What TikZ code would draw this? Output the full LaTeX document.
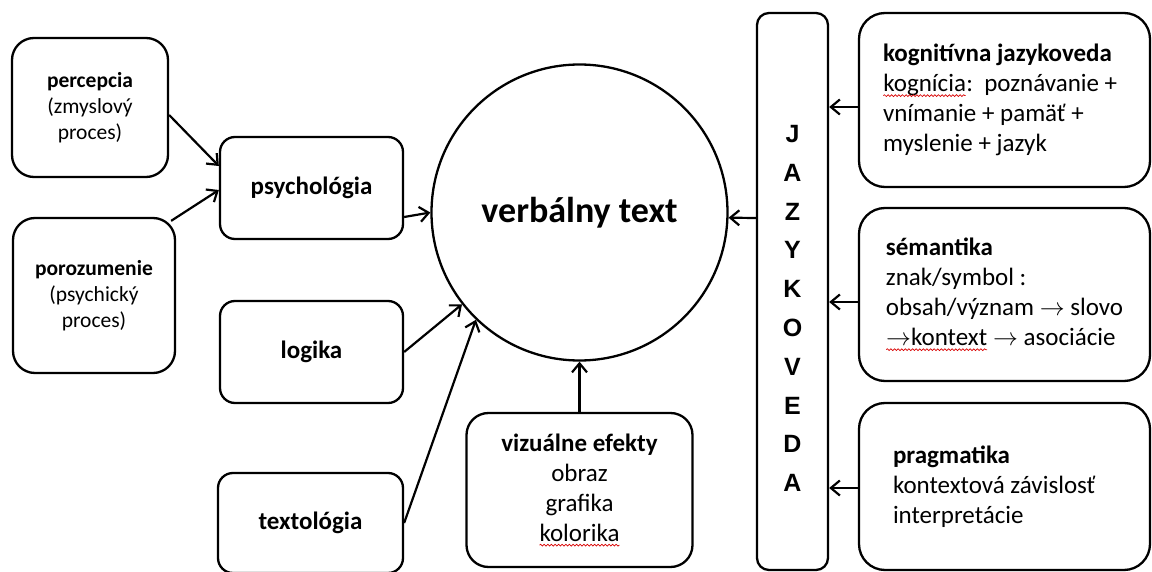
\documentclass[tikz,border=0pt]{standalone}
\usepackage{fontspec}
\setmainfont{Carlito}
\newfontfamily\lettersfont{Liberation Sans}
\usetikzlibrary{arrows.meta,decorations.pathmorphing}

% word with a red wavy underline (spell-check mark)
\newcommand\spellwave[1]{\tikz[baseline=(w.base)]{%
  \node[draw=none, fill=none, inner sep=0pt, outer sep=0pt, minimum width=0pt,
        minimum height=0pt, rounded corners=0pt] (w) {#1};
  \draw[draw=red!85!black, line width=0.7pt, rounded corners=0pt, decorate,
        decoration={snake, amplitude=0.9pt, segment length=3.6pt}]
    ([yshift=-4pt]w.base west) -- ([yshift=-4pt]w.base east);}}

% heading line padded to a fixed width, so the text block starts at a set indent
\newcommand\headline[2]{\makebox[#1][l]{\textbf{#2}}}

\tikzset{
  box/.style={draw, line width=2.3pt, fill=white, align=center, inner sep=0pt,
              font=\fontsize{25}{30}\selectfont},
  smallbox/.style={box, rounded corners=22pt, font=\fontsize{21.5}{26}\selectfont},
  midbox/.style={box, rounded corners=15pt, minimum width=183pt, minimum height=102pt,
                 font=\fontsize{25}{30}\selectfont\bfseries},
  rbox/.style={box, rounded corners=26pt, minimum width=291pt, align=left},
  arr/.style={line width=2.2pt, -{Straight Barb[length=9pt,width=15pt]}},
}

\begin{document}
\begin{tikzpicture}[x=1pt,y=-1pt]
\useasboundingbox (0,0) rectangle (1152,572);

% left column
\node[smallbox, minimum width=156pt, minimum height=139pt] (perc) at (90,107.5)
  {\textbf{percepcia}\\(zmyslový\\proces)};
\node[smallbox, minimum width=162pt, minimum height=155pt] (poroz) at (94,295.5)
  {\textbf{porozumenie}\\(psychický\\proces)};

% middle column
\node[midbox] (psych) at (311.5,188) {psychológia};
\node[midbox] (logika) at (311.5,352) {logika};
\node[midbox, minimum width=185pt, minimum height=100pt] (textol) at (310.5,523) {textológia};

% central circle
\node[draw, circle, line width=2.3pt, minimum size=296pt, inner sep=0pt,
      font=\fontsize{36}{43}\selectfont\bfseries] (vt) at (579.5,212.5) {verbálny text};

% visual effects
\node[box, rounded corners=22pt, minimum width=226pt, minimum height=154pt] (viz) at (579.5,490)
  {\textbf{vizuálne efekty}\\obraz\\grafika\\\spellwave{kolorika}};

% linguistics column
\node[box, rounded corners=12pt, minimum width=71pt, minimum height=557pt] (jaz) at (792.5,291.5) {};
\node[font={\lettersfont\fontsize{25}{38.8}\selectfont\bfseries}, align=center, inner sep=0pt]
  (jazt) at ([yshift=-17pt]jaz.center) {J\\A\\Z\\Y\\K\\O\\V\\E\\D\\A};

% right column
\node[rbox, minimum height=174pt] (kog) at (1004.5,100)
  {\headline{243pt}{kognitívna jazykoveda}\\\spellwave{kognícia}:\ \ poznávanie +\\vnímanie + pamäť +\\myslenie + jazyk};
\node[rbox, minimum height=173pt] (sem) at (1004.5,294.5)
  {\headline{229pt}{sémantika}\\znak/symbol :\\obsah/význam $\rightarrow$ slovo\\\spellwave{$\rightarrow$kontext} $\rightarrow$ asociácie};
\node[rbox, minimum height=167pt] (prag) at (1004.5,486.5)
  {\headline{223pt}{pragmatika}\\kontextová závislosť\\interpretácie};

% connectors
\draw[arr] ([yshift=-7.5pt]perc.east) -- ([yshift=22pt]psych.west);
\draw[arr] ([shift={(-5pt,-4pt)}]poroz.north east) -- ([yshift=-2pt]psych.west);
\draw[arr] ([yshift=-29pt]psych.east) -- (vt.west);
\draw[arr] (logika.east) -- (vt.218);
\draw[arr] (textol.east) -- (vt.226);
\draw[arr] (viz.north) -- (vt.south);
\draw[arr] ([yshift=-5.5pt]jaz.west |- vt.east) -- (vt.-2);
\draw[arr] ([yshift=-7pt]kog.west) -- ([yshift=-7pt]kog.west -| jaz.east);
\draw[arr] ([yshift=-7.5pt]sem.west) -- ([yshift=-7.5pt]sem.west -| jaz.east);
\draw[arr] ([yshift=-1.5pt]prag.west) -- ([yshift=-1.5pt]prag.west -| jaz.east);
\end{tikzpicture}
\end{document}
